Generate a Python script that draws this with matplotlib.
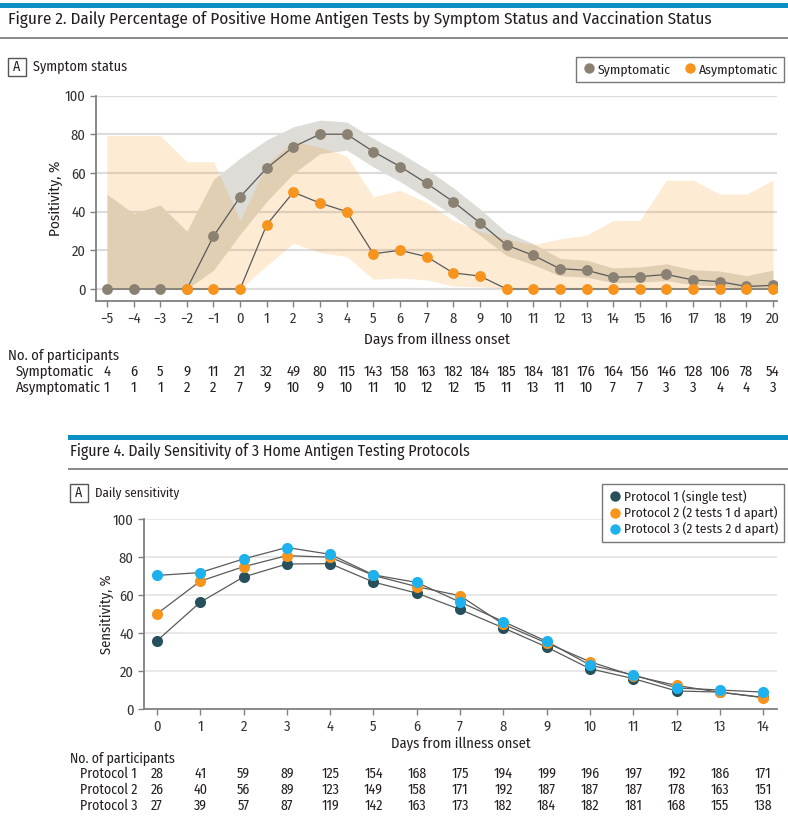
import matplotlib
matplotlib.use('Agg')
import matplotlib.pyplot as plt
import matplotlib.transforms as mtransforms
from matplotlib.lines import Line2D
from matplotlib.patches import Rectangle
from matplotlib import font_manager
import numpy as np

# --- fonts: a narrow face if there is one ---
names = {f.name for f in font_manager.fontManager.ttflist}
FONT = 'DejaVu Sans'
for cand in ['Fira Sans Condensed', 'PT Sans Narrow', 'Roboto Condensed', 'Archivo Narrow',
             'Asap Condensed', 'Liberation Sans Narrow']:
    if cand in names:
        FONT = cand
        break
plt.rcParams['font.family'] = [FONT, 'DejaVu Sans']

# --- Figure 2 data: symptom status ---
days_a = list(range(-5, 21))
symptomatic = [0, 0, 0, 0, 27.3, 47.6, 62.5, 73.5, 80.0, 80.0, 71.0, 63.3, 54.6,
               45.1, 34.2, 22.7, 17.4, 10.5, 9.7, 6.1, 6.4, 7.5, 4.7, 3.8, 1.3, 1.9]
symp_lo = [0, 0, 0, 0, 9.7, 28.3, 45.3, 59.7, 70.0, 71.8, 63.1, 55.5, 46.9,
           38.0, 27.8, 17.3, 12.6, 6.8, 6.1, 3.3, 3.5, 4.3, 2.2, 1.5, 0.2, 0.3]
symp_hi = [49.0, 39.0, 43.4, 29.9, 56.6, 67.6, 77.1, 83.8, 87.3, 86.3, 77.8, 70.4, 62.0,
           52.3, 41.4, 29.3, 23.5, 15.8, 14.9, 10.9, 11.4, 13.0, 9.9, 9.3, 6.9, 9.8]
asymptomatic = [np.nan, np.nan, np.nan, 0, 0, 0, 33.3, 50.0, 44.4, 40.0, 18.2, 20.0, 16.7,
                8.3, 6.7, 0, 0, 0, 0, 0, 0, 0, 0, 0, 0, 0]
asym_lo = [0, 0, 0, 0, 0, 0, 12.1, 23.7, 18.9, 16.8, 5.1, 5.7, 4.7,
           1.5, 1.2, 0, 0, 0, 0, 0, 0, 0, 0, 0, 0, 0]
asym_hi = [79.3, 79.3, 79.3, 65.8, 65.8, 35.4, 64.6, 76.3, 73.3, 68.7, 47.7, 51.0, 44.8,
           35.4, 29.8, 25.9, 22.8, 25.9, 27.8, 35.4, 35.4, 56.2, 56.2, 49.0, 49.0, 56.2]
n_symptomatic = [4, 6, 5, 9, 11, 21, 32, 49, 80, 115, 143, 158, 163, 182, 184, 185, 184,
                 181, 176, 164, 156, 146, 128, 106, 78, 54]
n_asymptomatic = [1, 1, 1, 2, 2, 7, 9, 10, 9, 10, 11, 10, 12, 12, 15, 11, 13, 11, 10,
                  7, 7, 3, 3, 4, 4, 3]

# --- Figure 4 data: daily sensitivity ---
days_b = list(range(0, 15))
protocol1 = [35.9, 56.2, 69.5, 76.3, 76.5, 66.8, 61.0, 52.4, 42.7, 32.6, 21.2, 16.0, 9.5, 8.9, 6.1]
protocol2 = [50.1, 67.3, 74.9, 80.7, 79.9, 70.3, 64.4, 59.6, 44.6, 34.7, 24.9, 17.5, 12.4, 8.8, 6.0]
protocol3 = [70.3, 71.8, 79.0, 85.0, 81.4, 70.6, 66.6, 56.3, 46.0, 35.6, 23.1, 18.0, 11.1, 10.0, 8.9]
n_protocol1 = [28, 41, 59, 89, 125, 154, 168, 175, 194, 199, 196, 197, 192, 186, 171]
n_protocol2 = [26, 40, 56, 89, 123, 149, 158, 171, 192, 187, 187, 187, 178, 163, 151]
n_protocol3 = [27, 39, 57, 87, 119, 142, 163, 173, 182, 184, 182, 181, 168, 155, 138]

# --- colours ---
BLUE = '#0b8fc4'
TXT = '#231f20'
GRID = '#dcdcdc'
SPINE = '#808080'
LINE = '#5a5a5a'
C_SYM = '#8b8172'
C_ASY = '#f7941d'
C_P1 = '#27505c'
C_P2 = '#f7941d'
C_P3 = '#1db2ee'
FS = 10.5

W, H = 788, 825
fig = plt.figure(figsize=(W / 100, H / 100), dpi=100)


def fx(px):
    return px / W


def fy(py):
    return 1 - py / H


def header(y_bar, y_title, y_rule, x0, title, size):
    fig.patches.append(Rectangle((fx(x0), fy(y_bar + 2.5)), 1 - fx(x0), 4.5 / H,
                                 transform=fig.transFigure, color=BLUE, lw=0))
    fig.text(fx(x0 + 8 if x0 == 0 else x0 + 2), fy(y_title), title, fontsize=size,
             color=TXT, va='center', ha='left')
    fig.patches.append(Rectangle((fx(x0), fy(y_rule + 1)), 1 - fx(x0), 2 / H,
                                 transform=fig.transFigure, color='#8c8c8c', lw=0))


def panel_label(x, y, text, size):
    # boxed panel letter, 18 px square
    fig.patches.append(Rectangle((fx(x), fy(y + 9)), 18 / W, 18 / H, transform=fig.transFigure,
                                 fc='white', ec='#555555', lw=1))
    fig.text(fx(x + 9), fy(y), 'A', fontsize=10, color=TXT, va='center', ha='center')
    fig.text(fx(x + 25), fy(y), text, fontsize=size, color=TXT, va='center', ha='left')


def style_axes(ax):
    for s in ['top', 'right']:
        ax.spines[s].set_visible(False)
    for s in ['left', 'bottom']:
        ax.spines[s].set_color(SPINE)
        ax.spines[s].set_linewidth(1.3)
    ax.tick_params(colors=SPINE, labelcolor='#333333', labelsize=FS, length=4, width=1)
    ax.set_yticks([0, 20, 40, 60, 80, 100])


def style_legend(leg):
    leg.get_frame().set_edgecolor('#555555')
    leg.get_frame().set_linewidth(1)
    for t in leg.get_texts():
        t.set_color(TXT)


# ================= Figure 2 =================
header(5, 20, 38, 0, 'Figure 2. Daily Percentage of Positive Home Antigen Tests by '
                     'Symptom Status and Vaccination Status', 12.3)
panel_label(8, 67, 'Symptom status', 10.2)

ax1 = fig.add_axes([fx(96), fy(301), fx(777 - 96), (301 - 95.5) / H])
style_axes(ax1)
ax1.set_xlim(-5.41, 20.15)
ax1.set_ylim(-6.2, 100)
for g in [0, 20, 40, 60, 80, 100]:
    ax1.axhline(g, color=GRID, lw=1.6, zorder=0)
ax1.fill_between(days_a, symp_lo, symp_hi, color='#dddcd6', lw=0, zorder=1)
ax1.fill_between(days_a, asym_lo, asym_hi, color='#f59b2a', alpha=0.2, lw=0, zorder=1.5)
ax1.plot(days_a, symptomatic, '-', color=LINE, lw=0.9, zorder=2)
ax1.plot(days_a, asymptomatic, '-', color=LINE, lw=0.9, zorder=2)
ax1.plot(days_a, symptomatic, 'o', color=C_SYM, ms=7.8, mec='none', zorder=3)
ax1.plot(days_a, asymptomatic, 'o', color=C_ASY, ms=7.8, mec='none', zorder=3)
ax1.set_xticks(days_a)
ax1.set_ylabel('Positivity, %', fontsize=11, color=TXT, labelpad=1)
ax1.set_xlabel('Days from illness onset', fontsize=11, color=TXT, labelpad=5)

leg1 = fig.legend(handles=[Line2D([], [], ls='none', marker='o', ms=7.5, color=C_SYM, mec='none'),
                           Line2D([], [], ls='none', marker='o', ms=7.5, color=C_ASY, mec='none')],
                  labels=['Symptomatic', 'Asymptomatic'], ncol=2, loc='upper right',
                  bbox_to_anchor=(fx(784), fy(57)), bbox_transform=fig.transFigure,
                  fontsize=9.8, frameon=True, fancybox=False, handletextpad=0.15,
                  columnspacing=0.9, handlelength=1.0, borderpad=0.45, borderaxespad=0)
style_legend(leg1)

tr1 = mtransforms.blended_transform_factory(ax1.transData, fig.transFigure)
fig.text(fx(8), fy(355), 'No. of participants', fontsize=FS, color=TXT, va='center')
for y, lab, vals in [(372, 'Symptomatic', n_symptomatic), (388, 'Asymptomatic', n_asymptomatic)]:
    fig.text(fx(16), fy(y), lab, fontsize=FS, color=TXT, va='center')
    for d, v in zip(days_a, vals):
        ax1.text(d, fy(y), str(v), transform=tr1, fontsize=FS, color=TXT,
                 ha='center', va='center', clip_on=False)

# ================= Figure 4 =================
header(437, 452, 469, 68, 'Figure 4. Daily Sensitivity of 3 Home Antigen Testing Protocols', 11.4)
panel_label(70, 493, 'Daily sensitivity', 9.4)

ax2 = fig.add_axes([fx(144), fy(709), fx(777 - 144), (709 - 519) / H])
style_axes(ax2)
ax2.set_xlim(-0.3, 14.32)
ax2.set_ylim(0, 100)
for g in [20, 40, 60, 80, 100]:
    ax2.axhline(g, color='#e2e2e2', lw=1.1, zorder=0)
for vals, c in [(protocol1, C_P1), (protocol2, C_P2), (protocol3, C_P3)]:
    ax2.plot(days_b, vals, '-', color=LINE, lw=0.9, zorder=2)
for i, (vals, c) in enumerate([(protocol1, C_P1), (protocol2, C_P2), (protocol3, C_P3)]):
    ax2.plot(days_b, vals, 'o', color=c, ms=8, mec='none', zorder=3 + i)
ax2.set_xticks(days_b)
ax2.set_ylabel('Sensitivity, %', fontsize=10.5, color=TXT, labelpad=-1)
ax2.set_xlabel('Days from illness onset', fontsize=10.5, color=TXT, labelpad=2.5)

leg2 = fig.legend(handles=[Line2D([], [], ls='none', marker='o', ms=7.5, color=c, mec='none')
                           for c in [C_P1, C_P2, C_P3]],
                  labels=['Protocol 1 (single test)', 'Protocol 2 (2 tests 1 d apart)',
                          'Protocol 3 (2 tests 2 d apart)'],
                  loc='upper right', bbox_to_anchor=(fx(784), fy(484)),
                  bbox_transform=fig.transFigure, fontsize=9.6, frameon=True,
                  fancybox=False, handletextpad=0.15, handlelength=1.0, labelspacing=0.2,
                  borderpad=0.45, borderaxespad=0)
style_legend(leg2)

tr2 = mtransforms.blended_transform_factory(ax2.transData, fig.transFigure)
fig.text(fx(70), fy(758), 'No. of participants', fontsize=10, color=TXT, va='center')
for y, lab, vals in [(774, 'Protocol 1', n_protocol1), (790, 'Protocol 2', n_protocol2),
                     (806, 'Protocol 3', n_protocol3)]:
    fig.text(fx(80), fy(y), lab, fontsize=10, color=TXT, va='center')
    for d, v in zip(days_b, vals):
        ax2.text(d, fy(y), str(v), transform=tr2, fontsize=10, color=TXT,
                 ha='center', va='center', clip_on=False)

fig.savefig('out.png', dpi=100, facecolor='white')
